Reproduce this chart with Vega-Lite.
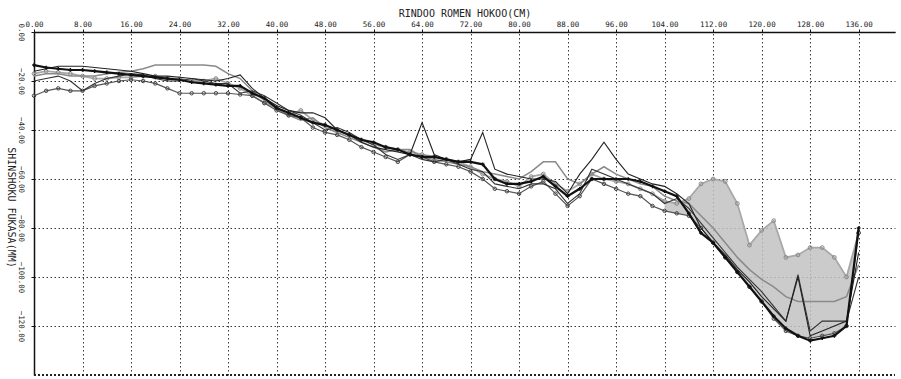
{
  "$schema": "https://vega.github.io/schema/vega-lite/v6.json",
  "autosize": "none",
  "width": 861,
  "height": 343,
  "padding": {"left": 34, "top": 32, "right": 6, "bottom": 4},
  "background": "white",
  "config": {
    "view": {"stroke": null},
    "axis": {
      "labelFont": "DejaVu Sans Mono", "titleFont": "DejaVu Sans Mono",
      "labelFontSize": 7.5, "titleFontSize": 10, "titleFontWeight": "normal",
      "labelColor": "#222", "titleColor": "#222",
      "domainColor": "#111", "domainWidth": 1.5,
      "tickColor": "#111", "tickSize": 3,
      "gridColor": "#222", "gridDash": [1.5, 2.5], "gridWidth": 1, "gridOpacity": 0.9
    }
  },
  "data": {"values": [
    {"x":0,"s1":-13.5,"s2":-16,"s3":-18,"s4":-20,"s5":-17,"s6":-26},
    {"x":2,"s1":-14.5,"s2":-15,"s3":-17,"s4":-19,"s5":-16,"s6":-24},
    {"x":4,"s1":-15,"s2":-14,"s3":-17,"s4":-18,"s5":-16.5,"s6":-23},
    {"x":6,"s1":-15.5,"s2":-14,"s3":-18,"s4":-20,"s5":-17,"s6":-24},
    {"x":8,"s1":-15.5,"s2":-14,"s3":-18,"s4":-24,"s5":-18,"s6":-24},
    {"x":10,"s1":-16,"s2":-14.5,"s3":-18,"s4":-21,"s5":-19,"s6":-22},
    {"x":12,"s1":-16.5,"s2":-15,"s3":-17,"s4":-19,"s5":-19,"s6":-21},
    {"x":14,"s1":-17,"s2":-15.5,"s3":-16.5,"s4":-18,"s5":-18.5,"s6":-20},
    {"x":16,"s1":-17.5,"s2":-16,"s3":-16,"s4":-17,"s5":-18.5,"s6":-19.5},
    {"x":18,"s1":-18,"s2":-17,"s3":-15,"s4":-17.5,"s5":-18,"s6":-20},
    {"x":20,"s1":-18.5,"s2":-18,"s3":-13.5,"s4":-19,"s5":-18,"s6":-21},
    {"x":22,"s1":-19,"s2":-18,"s3":-13.5,"s4":-20,"s5":-19,"s6":-23},
    {"x":24,"s1":-19.5,"s2":-18.5,"s3":-13.5,"s4":-20,"s5":-19,"s6":-25},
    {"x":26,"s1":-20.5,"s2":-19,"s3":-13.5,"s4":-19,"s5":-20,"s6":-25},
    {"x":28,"s1":-21,"s2":-19.5,"s3":-13.5,"s4":-20,"s5":-20,"s6":-25},
    {"x":30,"s1":-21.5,"s2":-20,"s3":-14,"s4":-21,"s5":-19,"s6":-25},
    {"x":32,"s1":-22,"s2":-19,"s3":-17,"s4":-21,"s5":-21,"s6":-25},
    {"x":34,"s1":-22,"s2":-17.5,"s3":-19,"s4":-25,"s5":-23,"s6":-25.5},
    {"x":36,"s1":-25,"s2":-23,"s3":-24,"s4":-24,"s5":-26,"s6":-26},
    {"x":38,"s1":-27,"s2":-27,"s3":-28,"s4":-26,"s5":-29,"s6":-29},
    {"x":40,"s1":-31,"s2":-30,"s3":-31,"s4":-29,"s5":-31,"s6":-32},
    {"x":42,"s1":-33,"s2":-32,"s3":-34,"s4":-32,"s5":-34,"s6":-34},
    {"x":44,"s1":-35,"s2":-33,"s3":-36,"s4":-34,"s5":-32,"s6":-35},
    {"x":46,"s1":-37,"s2":-33,"s3":-35,"s4":-37,"s5":-36,"s6":-39},
    {"x":48,"s1":-38,"s2":-35,"s3":-39,"s4":-40,"s5":-38,"s6":-41},
    {"x":50,"s1":-40,"s2":-40,"s3":-41,"s4":-39,"s5":-40,"s6":-42},
    {"x":52,"s1":-42,"s2":-42,"s3":-43,"s4":-41,"s5":-42,"s6":-44},
    {"x":54,"s1":-44,"s2":-45,"s3":-45,"s4":-44,"s5":-44,"s6":-47},
    {"x":56,"s1":-45,"s2":-47,"s3":-47,"s4":-46,"s5":-46,"s6":-49},
    {"x":58,"s1":-47,"s2":-48,"s3":-49,"s4":-50,"s5":-47,"s6":-51},
    {"x":60,"s1":-48,"s2":-49,"s3":-48,"s4":-52,"s5":-48,"s6":-53},
    {"x":62,"s1":-50,"s2":-50,"s3":-48,"s4":-50,"s5":-49,"s6":-50},
    {"x":64,"s1":-51,"s2":-37,"s3":-51,"s4":-52,"s5":-50,"s6":-51},
    {"x":66,"s1":-51,"s2":-50,"s3":-52,"s4":-53,"s5":-51,"s6":-53},
    {"x":68,"s1":-52,"s2":-52,"s3":-53,"s4":-52,"s5":-52,"s6":-54},
    {"x":70,"s1":-53,"s2":-53,"s3":-54,"s4":-54,"s5":-53,"s6":-55},
    {"x":72,"s1":-53,"s2":-52,"s3":-55,"s4":-56,"s5":-55,"s6":-57},
    {"x":74,"s1":-54,"s2":-41,"s3":-57,"s4":-57,"s5":-58,"s6":-60},
    {"x":76,"s1":-60,"s2":-56,"s3":-58,"s4":-62,"s5":-60,"s6":-64},
    {"x":78,"s1":-62,"s2":-58,"s3":-59,"s4":-63,"s5":-61,"s6":-65},
    {"x":80,"s1":-62,"s2":-59,"s3":-60,"s4":-64,"s5":-63,"s6":-66},
    {"x":82,"s1":-61,"s2":-60,"s3":-57,"s4":-62,"s5":-59,"s6":-63},
    {"x":84,"s1":-59,"s2":-60,"s3":-53,"s4":-62,"s5":-58,"s6":-61},
    {"x":86,"s1":-63,"s2":-61,"s3":-53,"s4":-64,"s5":-62,"s6":-66},
    {"x":88,"s1":-67,"s2":-66,"s3":-60,"s4":-70,"s5":-65,"s6":-71},
    {"x":90,"s1":-64,"s2":-58,"s3":-62,"s4":-66,"s5":-62,"s6":-67},
    {"x":92,"s1":-60,"s2":-52,"s3":-58,"s4":-56,"s5":-58,"s6":-60},
    {"x":94,"s1":-60,"s2":-45,"s3":-55,"s4":-58,"s5":-60,"s6":-62},
    {"x":96,"s1":-60,"s2":-52,"s3":-58,"s4":-60,"s5":-61,"s6":-64},
    {"x":98,"s1":-60,"s2":-58,"s3":-60,"s4":-62,"s5":-62,"s6":-66},
    {"x":100,"s1":-61,"s2":-60,"s3":-62,"s4":-64,"s5":-64,"s6":-67},
    {"x":102,"s1":-63,"s2":-62,"s3":-63,"s4":-66,"s5":-66,"s6":-71},
    {"x":104,"s1":-65,"s2":-63,"s3":-67,"s4":-70,"s5":-69,"s6":-73},
    {"x":106,"s1":-67,"s2":-66,"s3":-69,"s4":-68,"s5":-70,"s6":-74},
    {"x":108,"s1":-74,"s2":-70,"s3":-70,"s4":-72,"s5":-68,"s6":-75},
    {"x":110,"s1":-82,"s2":-80,"s3":-75,"s4":-78,"s5":-62,"s6":-80},
    {"x":112,"s1":-86,"s2":-86,"s3":-80,"s4":-84,"s5":-60,"s6":-86},
    {"x":114,"s1":-92,"s2":-91,"s3":-86,"s4":-90,"s5":-61,"s6":-92},
    {"x":116,"s1":-98,"s2":-97,"s3":-92,"s4":-96,"s5":-70,"s6":-98},
    {"x":118,"s1":-104,"s2":-102,"s3":-97,"s4":-101,"s5":-87,"s6":-104},
    {"x":120,"s1":-110,"s2":-108,"s3":-101,"s4":-106,"s5":-81,"s6":-110},
    {"x":122,"s1":-116,"s2":-113,"s3":-104,"s4":-112,"s5":-77,"s6":-117},
    {"x":124,"s1":-121,"s2":-118,"s3":-108,"s4":-118,"s5":-92,"s6":-122},
    {"x":126,"s1":-124,"s2":-100,"s3":-110,"s4":-99,"s5":-91,"s6":-124},
    {"x":128,"s1":-126,"s2":-124,"s3":-110,"s4":-122,"s5":-88,"s6":-125},
    {"x":130,"s1":-125,"s2":-122,"s3":-110,"s4":-118,"s5":-88,"s6":-124},
    {"x":132,"s1":-124,"s2":-120,"s3":-110,"s4":-118,"s5":-92,"s6":-123},
    {"x":134,"s1":-120,"s2":-118,"s3":-108,"s4":-118,"s5":-100,"s6":-120},
    {"x":136,"s1":-80,"s2":-90,"s3":-95,"s4":-100,"s5":-82,"s6":-82}
  ]},
  "encoding": {
    "x": {
      "field": "x", "type": "quantitative",
      "scale": {"domain": [0, 142], "nice": false, "zero": false},
      "axis": {
        "orient": "top", "values": [0,8,16,24,32,40,48,56,64,72,80,88,96,104,112,120,128,136],
        "format": ".2f", "title": "RINDOO ROMEN HOKOO(CM)", "titlePadding": 2, "labelPadding": 1,
        "labelFlush": false
      }
    }
  },
  "layer": [
    {
      "transform": [{"filter": "datum.x >= 104"}],
      "mark": {"type": "area", "color": "#c2c2c2", "opacity": 0.85},
      "encoding": {
        "y": {
          "field": "s5", "type": "quantitative",
          "scale": {"domain": [-140, 0], "nice": false, "zero": false},
          "axis": {
            "values": [0,-20,-40,-60,-80,-100,-120], "format": ".2f",
            "labelAngle": 90, "labelAlign": "center", "labelBaseline": "top",
            "labelPadding": 7, "title": "SHINSHOKU FUKASA(MM)",
            "titleAngle": 90, "titleX": -24, "titleY": 175, "titleAlign": "center", "titleBaseline": "middle"
          }
        },
        "y2": {"field": "s6"}
      }
    },
    {
      "mark": {"type": "rule", "color": "#222", "strokeDash": [1.5, 2.5], "strokeWidth": 1},
      "encoding": {"x": {"datum": 0}, "x2": {"datum": 142}, "y": {"datum": -140}}
    },
    {
      "mark": {"type": "line", "color": "#a8a8a8", "strokeWidth": 1.8,
        "point": {"shape": "circle", "size": 14, "filled": false, "color": "#888", "strokeWidth": 1}},
      "encoding": {"y": {"field": "s5", "type": "quantitative"}}
    },
    {
      "mark": {"type": "line", "color": "#8a8a8a", "strokeWidth": 1.5},
      "encoding": {"y": {"field": "s3", "type": "quantitative"}}
    },
    {
      "mark": {"type": "line", "color": "#555", "strokeWidth": 1.2,
        "point": {"shape": "circle", "size": 12, "filled": false, "color": "#444", "strokeWidth": 1}},
      "encoding": {"y": {"field": "s6", "type": "quantitative"}}
    },
    {
      "mark": {"type": "line", "color": "#333", "strokeWidth": 1.1},
      "encoding": {"y": {"field": "s4", "type": "quantitative"}}
    },
    {
      "mark": {"type": "line", "color": "#222", "strokeWidth": 1.1},
      "encoding": {"y": {"field": "s2", "type": "quantitative"}}
    },
    {
      "mark": {"type": "line", "color": "#111", "strokeWidth": 2.2,
        "point": {"shape": "cross", "size": 14, "filled": true, "color": "#111"}},
      "encoding": {"y": {"field": "s1", "type": "quantitative"}}
    },
    {
      "data": {"values": [{"label": "NO.3-2"}]},
      "mark": {"type": "text", "font": "Liberation Sans", "fontSize": 17, "color": "#222", "align": "center", "baseline": "middle"},
      "encoding": {
        "x": {"datum": 129.3},
        "y": {"datum": -22},
        "text": {"field": "label"}
      }
    }
  ]
}
